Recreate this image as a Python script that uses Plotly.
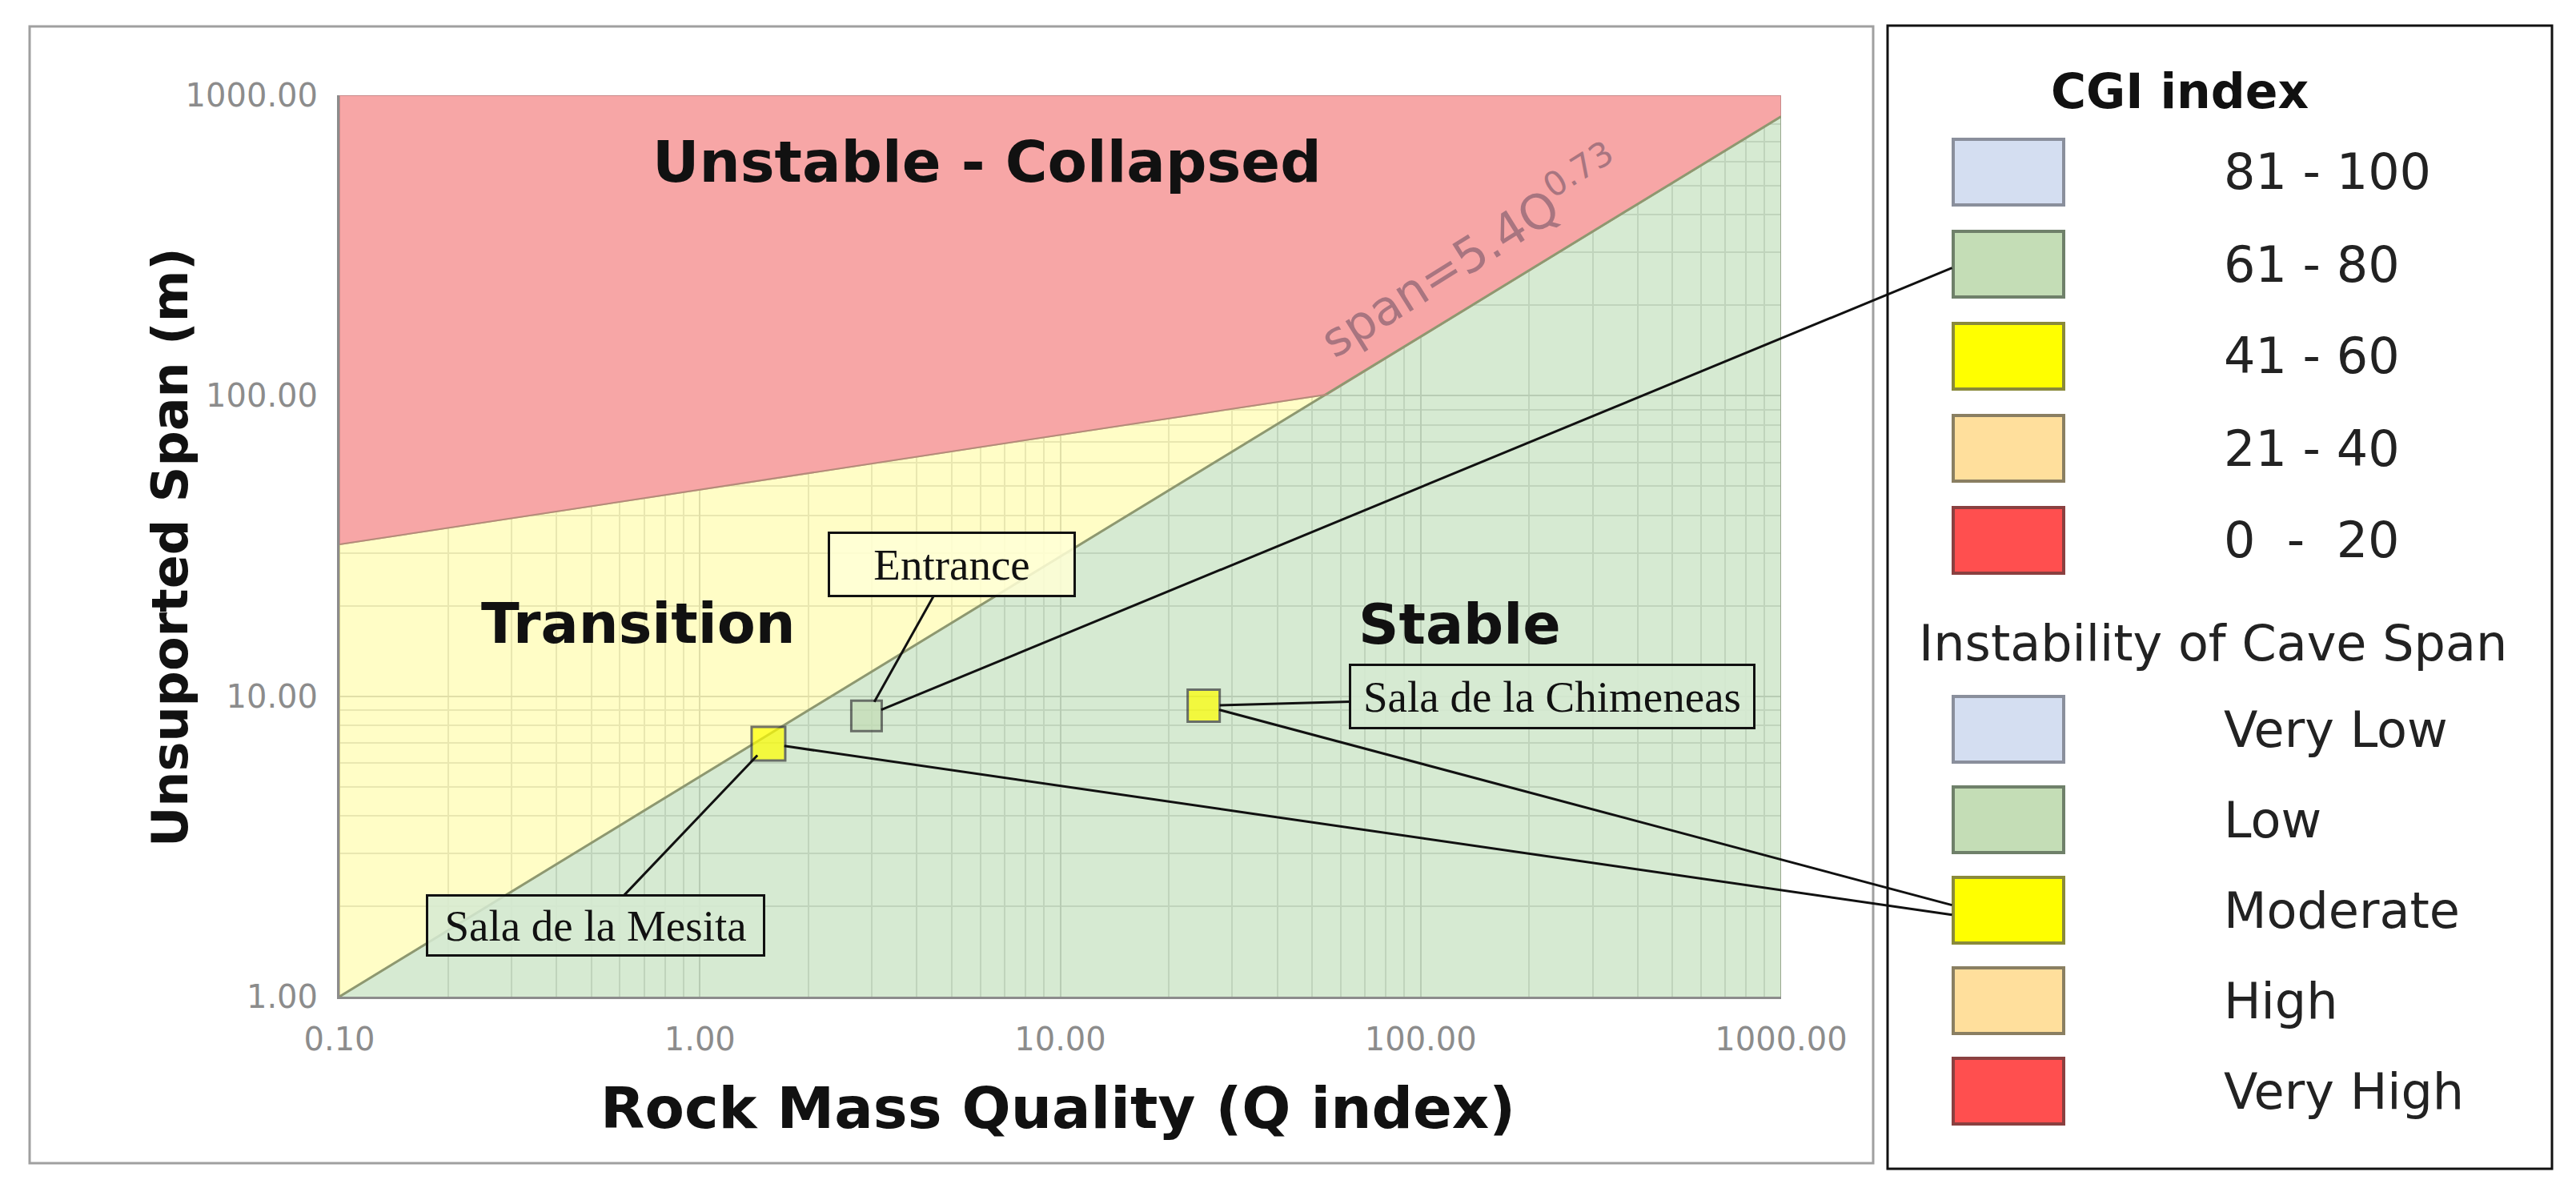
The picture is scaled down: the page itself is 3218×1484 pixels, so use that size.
import math
import plotly.graph_objects as go

# ---- data ----
span_q = [0.1, 1000.0]          # span = 5.4 Q^0.73 (stable limit)
span_s = [1.0, 850.0]
trans_q = [0.1, 55.0]           # upper limit of transition zone
trans_s = [32.0, 101.0]

sites = ["Sala de la Mesita", "Entrance", "Sala de la Chimeneas"]
site_q = [1.55, 2.9, 25.0]
site_span = [6.95, 8.6, 9.3]
site_cgi = ["41 - 60", "61 - 80", "41 - 60"]

cgi_labels = ["81 - 100", "61 - 80", "41 - 60", "21 - 40", "0  -  20"]
risk_labels = ["Very Low", "Low", "Moderate", "High", "Very High"]
class_colors = ["#D4DEF1", "#C4DDB6", "#FFFF00", "#FFDF9C", "#FF4F4F"]
class_borders = ["#8a8f9c", "#6f806a", "#8a8a3a", "#8a7f62", "#8a4040"]

# ---- geometry ----
W, H = 3218, 1484
X0, X1, Y0, Y1 = 416, 2217, 111, 1237   # plot area in px
SANS = "DejaVu Sans"
SERIF = "Liberation Serif"


def to_px(q, s):
    return (X0 + (math.log10(q) + 1) / 4 * (X1 - X0),
            Y1 - math.log10(s) / 3 * (Y1 - Y0))


def paper(px_x, px_y):
    return px_x / W, 1 - px_y / H


fig = go.Figure()

# stable zone (below span line)
fig.add_trace(go.Scatter(
    x=[span_q[0], span_q[1], span_q[1]], y=[span_s[0], span_s[1], 1.0],
    fill="toself", fillcolor="rgba(187,220,180,0.6)", mode="lines",
    line=dict(color="#9aa88f", width=2), hoverinfo="skip"))
# transition zone
fig.add_trace(go.Scatter(
    x=[span_q[0], trans_q[0], trans_q[1]], y=[span_s[0], trans_s[0], trans_s[1]],
    fill="toself", fillcolor="rgba(255,251,160,0.6)", mode="lines",
    line=dict(color="#c9c48a", width=2), hoverinfo="skip"))
# unstable zone
fig.add_trace(go.Scatter(
    x=[trans_q[0], trans_q[0], span_q[1], span_q[1], trans_q[1]],
    y=[trans_s[0], 1000.0, 1000.0, span_s[1], trans_s[1]],
    fill="toself", fillcolor="#F7A6A6", mode="lines",
    line=dict(color="#c98a8a", width=2), hoverinfo="skip"))
# boundary lines
fig.add_trace(go.Scatter(x=span_q, y=span_s, mode="lines",
                         line=dict(color="#8e9870", width=3), hoverinfo="skip"))
fig.add_trace(go.Scatter(x=trans_q, y=trans_s, mode="lines",
                         line=dict(color="#b58a7a", width=2), hoverinfo="skip"))

# sites
fig.add_trace(go.Scatter(
    x=site_q, y=site_span, mode="markers",
    marker=dict(symbol="square", size=[42, 38, 40],
                color=[class_colors[cgi_labels.index(c)] for c in site_cgi],
                line=dict(color="#3a3a3a", width=3)),
    hoverinfo="skip"))

ann = []

# site labels with leader lines
label_pos = [(0.514, 1.73), (4.99, 27.5), (232.0, 10.0)]
label_box = [(412, 66), (298, 70), (496, 70)]
label_bg = ["rgba(214,234,210,0.85)", "rgba(255,255,214,0.85)", "rgba(214,234,210,0.85)"]
for name, q, s, (lq, ls), (bw, bh), bg in zip(sites, site_q, site_span,
                                              label_pos, label_box, label_bg):
    ann.append(dict(
        x=math.log10(q), y=math.log10(s), xref="x", yref="y",
        ax=math.log10(lq), ay=math.log10(ls), axref="x", ayref="y",
        text=name, showarrow=True, arrowhead=0, arrowwidth=3, arrowcolor="#111",
        standoff=20, font=dict(family=SERIF, size=55, color="#111"),
        width=bw, height=bh, align="center", valign="middle",
        bgcolor=bg, bordercolor="#111", borderwidth=3, borderpad=3))

# legend geometry
sw_x0, sw_x1, sw_h = 2432, 2570, 82
cgi_rows = [207 + 115 * i for i in range(5)]
risk_rows = [903 + 113 * i for i in range(5)]

# leader lines from sites to legend swatches
tails = []
for k, c in enumerate(site_cgi):
    i = cgi_labels.index(c)
    if c == "61 - 80":
        tails.append((sw_x0, cgi_rows[i] + 4))
    else:
        tails.append((sw_x0, risk_rows[i] + (6 if k == 0 else -6)))
for q, s, (tx, ty) in zip(site_q, site_span, tails):
    hx, hy = to_px(q, s)
    ann.append(dict(
        x=math.log10(q), y=math.log10(s), xref="x", yref="y",
        ax=tx - hx, ay=ty - hy, text="", showarrow=True, arrowhead=0,
        arrowwidth=3, arrowcolor="#111", standoff=20))

# zone labels
for txt, q, s, size in [("Unstable - Collapsed", 6.25, 600, 72),
                        ("Transition", 0.674, 17.45, 70),
                        ("Stable", 128.5, 17.3, 70)]:
    ann.append(dict(x=math.log10(q), y=math.log10(s), xref="x", yref="y",
                    text="<b>%s</b>" % txt, showarrow=False,
                    xanchor="center", yanchor="middle",
                    font=dict(family=SANS, size=size, color="#111")))

ann.append(dict(x=math.log10(137), y=math.log10(304), xref="x", yref="y",
                text="span=5.4Q<sup>0.73</sup>", showarrow=False, textangle=-32,
                xanchor="center", yanchor="middle",
                font=dict(family=SANS, size=60, color="#a87580")))


def paper_text(px_x, px_y, text, size, color="#111", anchor="center", angle=0):
    px, py = paper(px_x, px_y)
    return dict(x=px, y=py, xref="paper", yref="paper", text=text,
                showarrow=False, xanchor=anchor, yanchor="middle", textangle=angle,
                font=dict(family=SANS, size=size, color=color))


# axis titles
ann.append(paper_text(1313, 1376, "<b>Rock Mass Quality (Q index)</b>", 72))
ann.append(paper_text(204, 676, "<b>Unsuported Span (m)</b>", 62, angle=-90))

# frames
shapes = [
    dict(type="rect", xref="paper", yref="paper", x0=29 / W, x1=2332 / W,
         y0=1 - 1445 / H, y1=1 - 25 / H, line=dict(color="#a0a0a0", width=3)),
    dict(type="rect", xref="paper", yref="paper", x0=2350 / W, x1=3180 / W,
         y0=1 - 1452 / H, y1=1 - 24 / H, line=dict(color="#111", width=3)),
]

# legend
ann.append(paper_text(2715, 106, "<b>CGI index</b>", 60))
ann.append(paper_text(2756, 795, "Instability of Cave Span", 62, color="#222"))
for rows, labels in [(cgi_rows, cgi_labels), (risk_rows, risk_labels)]:
    for yc, lab, col, bcol in zip(rows, labels, class_colors, class_borders):
        shapes.append(dict(type="rect", xref="paper", yref="paper",
                           x0=sw_x0 / W, x1=sw_x1 / W,
                           y0=1 - (yc + sw_h / 2) / H, y1=1 - (yc - sw_h / 2) / H,
                           fillcolor=col, line=dict(color=bcol, width=4)))
        ann.append(paper_text(2768, yc, lab, 62, color="#222", anchor="left"))

axis_common = dict(
    type="log", dtick=1, tickformat=".2f", showline=True, linecolor="#8c8c8c",
    linewidth=3, gridcolor="#b4b4b4", gridwidth=2, ticks="", zeroline=False,
    automargin=False,
    tickfont=dict(family=SANS, size=40, color="#8c8c8c"), ticklabelstandoff=16,
    minor=dict(dtick="D1", showgrid=True, gridcolor="#c8c8c8", gridwidth=2))

fig.update_layout(
    width=W, height=H,
    margin=dict(l=0, r=0, t=0, b=0, pad=0, autoexpand=False),
    paper_bgcolor="white", plot_bgcolor="white", showlegend=False,
    xaxis=dict(range=[-1, 3], domain=[X0 / W, X1 / W], **axis_common),
    yaxis=dict(range=[0, 3], domain=[1 - Y1 / H, 1 - Y0 / H], **axis_common),
    annotations=ann, shapes=shapes)

fig.write_html("out.html")
